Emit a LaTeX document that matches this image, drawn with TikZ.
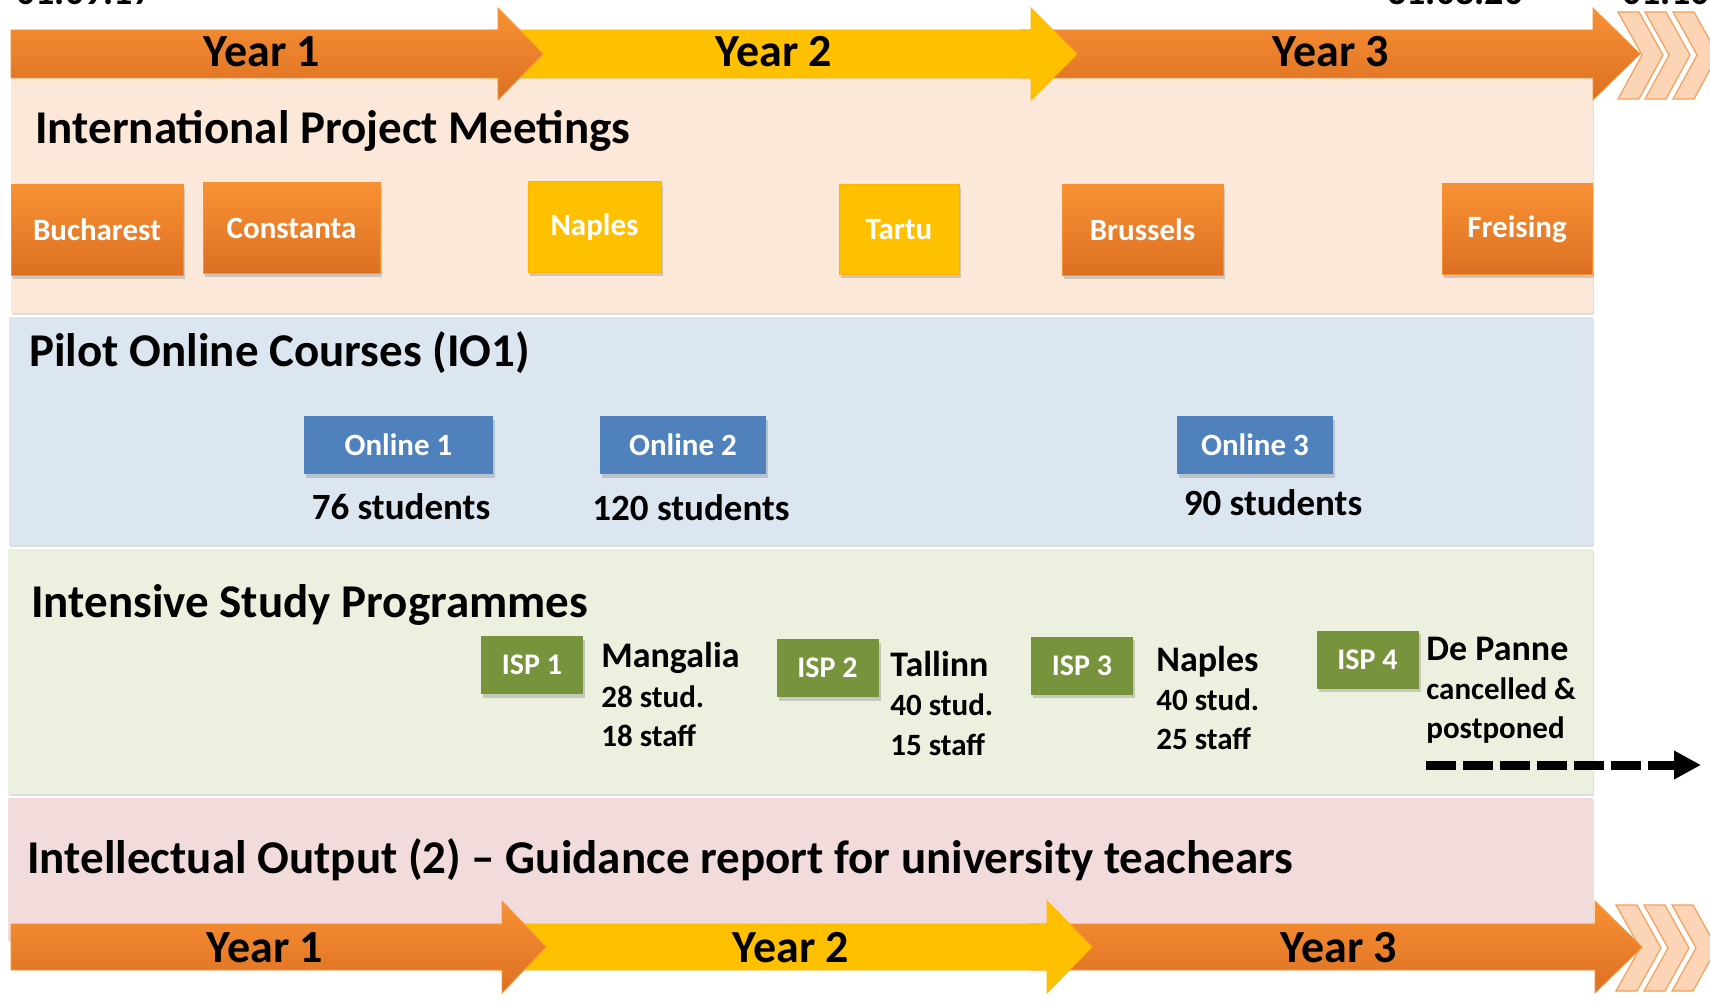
\documentclass[tikz,border=0pt]{standalone}
\usepackage{fontspec}
\setmainfont{Carlito}
\usetikzlibrary{positioning,shadows,arrows.meta}

\definecolor{yearorange}{RGB}{248,145,52}
\definecolor{yearorangedark}{RGB}{220,112,34}
\definecolor{yearyellow}{RGB}{255,192,0}
\definecolor{chevronfill}{RGB}{251,213,181}
\definecolor{chevronline}{RGB}{244,160,92}
\definecolor{meetband}{RGB}{252,232,217}
\definecolor{onlineband}{RGB}{220,230,241}
\definecolor{ispband}{RGB}{235,241,222}
\definecolor{ioband}{RGB}{242,220,219}
\definecolor{onlineblue}{RGB}{79,129,189}
\definecolor{ispgreen}{RGB}{119,147,60}

\tikzset{
  band/.style={fill=#1, drop shadow={opacity=0.25, shadow xshift=0.4pt, shadow yshift=-1.2pt}},
  heading/.style={anchor=base west, inner sep=0pt, font=\fontsize{23.5}{27}\selectfont\bfseries},
  yearlabel/.style={anchor=base, inner sep=0pt, font=\fontsize{23}{27}\selectfont\bfseries},
  datetext/.style={anchor=base west, inner sep=0pt, font=\fontsize{19}{22}\selectfont\bfseries},
  orangearrow/.style={top color=yearorange, bottom color=yearorangedark, draw=yearorange, line width=0.4pt},
  yellowarrow/.style={fill=yearyellow, draw=yearyellow!85!orange, line width=0.4pt},
  chevron/.style={fill=chevronfill, draw=chevronline, line width=0.6pt},
  boxshadow/.style={drop shadow={opacity=0.35, shadow xshift=1pt, shadow yshift=-1.8pt}},
  meetbox/.style={boxshadow, minimum height=45pt, inner sep=0pt, text=white,
    font=\fontsize{15.5}{18}\selectfont\bfseries, draw=yearorange, line width=0.5pt,
    top color=yearorange, bottom color=yearorangedark},
  meetboxyellow/.style={meetbox, fill=yearyellow, top color=yearyellow, bottom color=yearyellow,
    draw=yearyellow!80!orange},
  onlinebox/.style={boxshadow, fill=onlineblue, minimum height=29pt, inner sep=0pt, text=white,
    font=\fontsize{15.5}{18}\selectfont\bfseries},
  ispbox/.style={boxshadow, fill=ispgreen, minimum width=51pt, minimum height=29pt, inner sep=0pt,
    text=white, font=\fontsize{15}{18}\selectfont\bfseries},
  countlabel/.style={anchor=base, inner sep=0pt, font=\fontsize{18.5}{20}\selectfont\bfseries},
  citylabel/.style={anchor=base west, inner sep=0pt, font=\fontsize{18}{20}\selectfont\bfseries},
  ispdetail/.style={anchor=base west, inner sep=0pt, font=\fontsize{15.5}{18}\selectfont\bfseries}
}

\begin{document}
\begin{tikzpicture}[x=0.5pt, y=-0.5pt]
    \useasboundingbox (0,0) rectangle (1710,1006);

    \fill[band=meetband] (11,70) rectangle (1593,313);
    \fill[band=onlineband] (9,317) rectangle (1593,545);
    \fill[band=ispband] (8,549) rectangle (1593,794);
    \fill[band=ioband] (8,798) rectangle (1593,940);

    \node[datetext] (startdate) at (16,5) {01.09.17};
    \node[datetext] (enddate) at (1387,5) {31.08.20};
    \node[datetext] (newdate) at (1622,5) {01.10.20};

    \foreach \cx in {1673,1645,1618}
        \draw[chevron] (\cx,12) -- ++(21,0) -- ++(24,43) -- ++(-24,44) -- ++(-21,0) -- ++(24,-44) -- cycle;
    \foreach \cx in {1672,1644,1616}
        \draw[chevron] (\cx,905) -- ++(21,0) -- ++(24,43) -- ++(-24,43) -- ++(-21,0) -- ++(24,-43) -- cycle;

    \draw[orangearrow] (1020,30) -- (1593,30) -- (1593,8) -- (1640,54) -- (1593,100) -- (1593,78) -- (1020,78) -- cycle;
    \draw[yellowarrow] (490,30) -- (1031,30) -- (1031,8) -- (1077,54) -- (1031,100) -- (1031,78) -- (490,78) -- cycle;
    \draw[orangearrow] (11,30) -- (498,30) -- (498,8) -- (543,54) -- (498,100) -- (498,78) -- (11,78) -- cycle;
    \node[yearlabel] (yearonetop) at (262,67) {Year 1};
    \node[yearlabel] (yeartwotop) at (774,67) {Year 2};
    \node[yearlabel] (yearthreetop) at (1331,67) {Year 3};

    \draw[orangearrow] (1030,924) -- (1595,924) -- (1595,901) -- (1642,947) -- (1595,993) -- (1595,970) -- (1030,970) -- cycle;
    \draw[yellowarrow] (495,924) -- (1047,924) -- (1047,901) -- (1092,947) -- (1047,993) -- (1047,970) -- (495,970) -- cycle;
    \draw[orangearrow] (11,924) -- (502,924) -- (502,901) -- (546,947) -- (502,993) -- (502,970) -- (11,970) -- cycle;
    \node[yearlabel] (yearonebottom) at (265,962) {Year 1};
    \node[yearlabel] (yeartwobottom) at (791,962) {Year 2};
    \node[yearlabel] (yearthreebottom) at (1339,962) {Year 3};

    \node[heading] (meetings) at (35,144) {International Project Meetings};
    \node[meetbox, minimum width=86pt] (bucharest) at (97,230) {Bucharest};
    \node[meetbox, minimum width=88.5pt] (constanta) at (291.5,228) {Constanta};
    \node[meetboxyellow, minimum width=66.5pt] (naplesmeet) at (594.5,227) {Naples};
    \node[meetboxyellow, minimum width=60pt] (tartu) at (899,229.5) {Tartu};
    \node[meetbox, minimum width=80.5pt] (brussels) at (1142.5,230) {Brussels};
    \node[meetbox, minimum width=75pt] (freising) at (1517,229) {Freising};

    \node[heading] (pilot) at (29,366) {Pilot Online Courses (IO1)};
    \node[onlinebox, minimum width=94.5pt] (online1) at (398.5,445) {Online 1};
    \node[onlinebox, minimum width=83pt] (online2) at (683,445) {Online 2};
    \node[onlinebox, minimum width=78pt] (online3) at (1255,445) {Online 3};
    \node[countlabel] (count1) at (401,519) {76 students};
    \node[countlabel] (count2) at (691,520) {120 students};
    \node[countlabel] (count3) at (1273,515) {90 students};

    \node[heading] (intensive) at (31,617) {Intensive Study Programmes};
    \node[ispbox] (isp1) at (532,665) {ISP 1};
    \node[ispbox] (isp2) at (827.5,668) {ISP 2};
    \node[ispbox] (isp3) at (1082,665.5) {ISP 3};
    \node[ispbox] (isp4) at (1367.5,659.5) {ISP 4};
    \node[citylabel] (mangalia) at (601,667) {Mangalia};
    \node[ispdetail] (mangaliastud) at (601,707) {28 stud.};
    \node[ispdetail] (mangaliastaff) at (601,746) {18 staff};
    \node[citylabel] (tallinn) at (890,676) {Tallinn};
    \node[ispdetail] (tallinnstud) at (890,715) {40 stud.};
    \node[ispdetail] (tallinnstaff) at (890,755) {15 staff};
    \node[citylabel] (naplesisp) at (1156,671) {Naples};
    \node[ispdetail] (naplesstud) at (1156,710) {40 stud.};
    \node[ispdetail] (naplesstaff) at (1156,749) {25 staff};
    \node[citylabel] (depanne) at (1426,660) {De Panne};
    \node[ispdetail] (cancelled) at (1426,699) {cancelled \&};
    \node[ispdetail] (postponed) at (1426,738) {postponed};
    \coordinate (delaystart) at (1426,765);
    \coordinate (delayend) at (1701,765);
    \draw[line width=4.5pt, dash pattern=on 15pt off 3.5pt, -{Triangle[length=13.5pt,width=13.5pt]}] (delaystart) -- (delayend);

    \node[heading] (output) at (27,873) {Intellectual Output (2) -- Guidance report for university teachears};
\end{tikzpicture}
\end{document}
